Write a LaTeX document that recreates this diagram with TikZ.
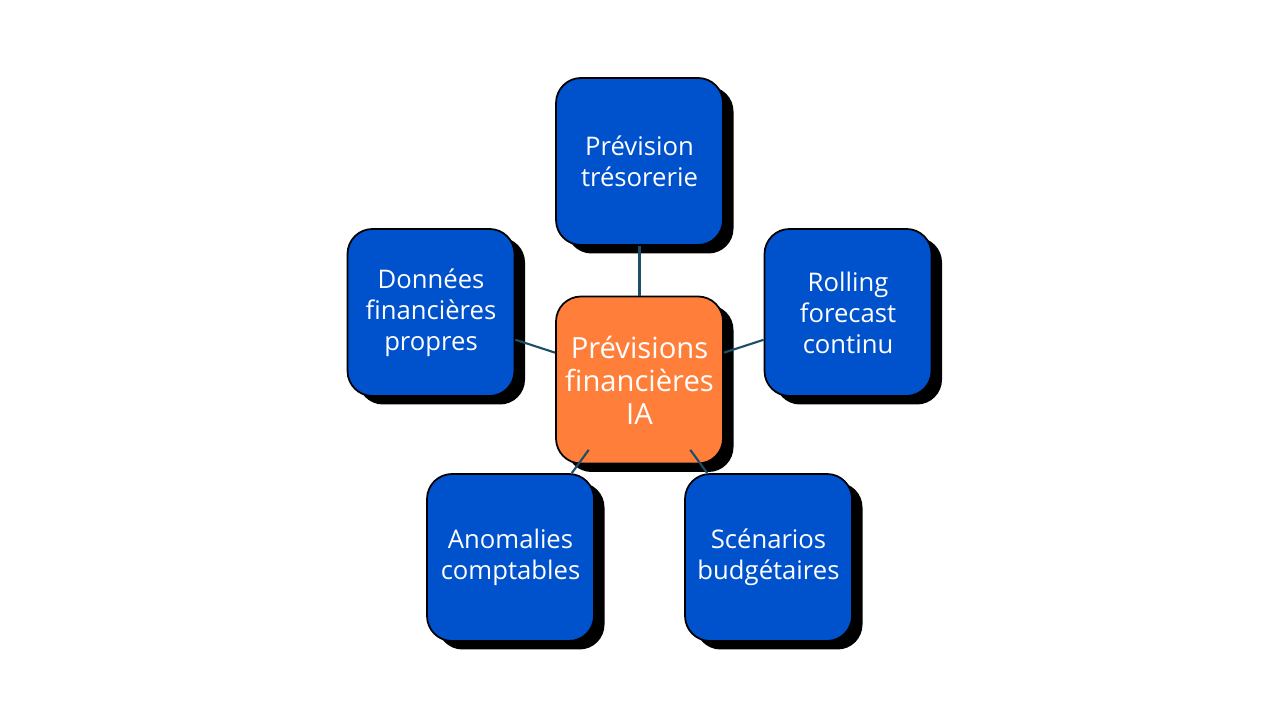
\documentclass[tikz,border=0pt]{standalone}
\usepackage{fontspec}
\setmainfont{Open Sans}
\usepackage{tikz}
\usetikzlibrary{shadows}

\definecolor{boxblue}{RGB}{0,81,204}
\definecolor{boxorange}{RGB}{255,127,58}
\definecolor{linkteal}{RGB}{30,77,105}

\tikzset{
    topic/.style={draw=black, line width=0.5pt, fill=boxblue, text=white,
        rounded corners=0.25cm, minimum width=1.67cm, minimum height=1.67cm,
        inner sep=0pt, align=center,
        font=\fontsize{7.3}{8.8}\selectfont,
        drop shadow={shadow xshift=0.105cm, shadow yshift=-0.085cm, fill=black, opacity=1}},
    hub/.style={topic, fill=boxorange, font=\fontsize{8.3}{9.4}\selectfont},
    link/.style={draw=linkteal, line width=0.6pt},
    deeplink/.style={link, shorten <=-0.18cm}
}

\begin{document}
\begin{tikzpicture}
                \useasboundingbox (0,0) rectangle (12.8,7.2);
                \node[hub] (ia) at (6.395,3.40) {Prévisions\\financières\\IA};
                \node[topic] (tres) at (6.395,5.585) {Prévision\\trésorerie};
                \node[topic] (donnees) at (4.31,4.075) {Données\\financières\\propres};
                \node[topic] (rolling) at (8.48,4.075) {Rolling\\forecast\\continu};
                \node[topic] (anom) at (5.105,1.625) {Anomalies\\comptables};
                \node[topic] (scen) at (7.685,1.625) {Scénarios\\budgétaires};
                \draw[link] (ia) -- (tres);
                \draw[link] (ia) -- (donnees);
                \draw[link] (ia) -- (rolling);
                \draw[deeplink] (ia) -- (anom);
                \draw[deeplink] (ia) -- (scen);
            \end{tikzpicture}
\end{document}
